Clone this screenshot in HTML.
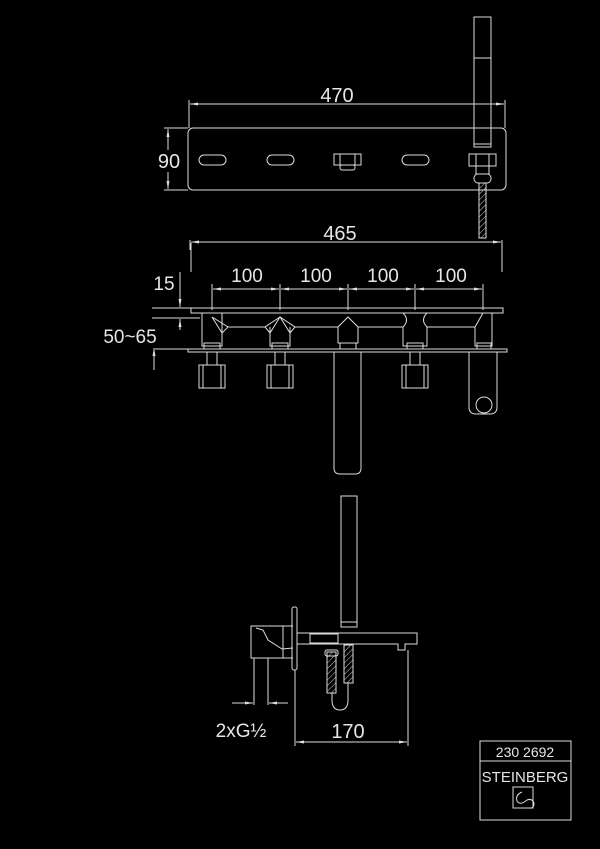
<!DOCTYPE html>
<html><head><style>
html,body{margin:0;padding:0;background:#000;}
svg{display:block}
text{font-family:"Liberation Sans",sans-serif;fill:#e6e6e6}
</style></head><body>
<svg width="600" height="849" viewBox="0 0 600 849" xmlns="http://www.w3.org/2000/svg">
<defs>
<marker id="a" markerWidth="8" markerHeight="6" refX="8" refY="3" orient="auto-start-reverse" markerUnits="userSpaceOnUse"><path d="M0,1.5 L8,3 L0,4.5z" fill="#ddd"/></marker>
<pattern id="h" width="4" height="4" patternUnits="userSpaceOnUse" patternTransform="rotate(45)"><line x1="0" y1="0" x2="0" y2="4" stroke="#ccc" stroke-width="1"/></pattern>
</defs>
<rect width="600" height="849" fill="#000"/>
<g fill="none" stroke="#dcdcdc" stroke-width="1">
<line x1="189" y1="100" x2="189" y2="128"/><line x1="505" y1="100" x2="505" y2="128"/>
<line x1="190" y1="104" x2="504" y2="104" marker-start="url(#a)" marker-end="url(#a)"/>
<rect x="188" y="128" width="318" height="62" rx="5"/>
<line x1="164" y1="128" x2="188" y2="128"/><line x1="164" y1="190" x2="188" y2="190"/>
<line x1="168" y1="129" x2="168" y2="150" marker-start="url(#a)"/><line x1="168" y1="172" x2="168" y2="189" marker-end="url(#a)"/>
<rect x="199" y="155" width="27" height="10" rx="5"/><line x1="208" y1="155" x2="216" y2="155"/><line x1="208" y1="165" x2="216" y2="165"/>
<rect x="267" y="155" width="27" height="10" rx="5"/><line x1="276" y1="155" x2="284" y2="155"/><line x1="276" y1="165" x2="284" y2="165"/>
<rect x="402" y="155" width="27" height="10" rx="5"/><line x1="411" y1="155" x2="419" y2="155"/><line x1="411" y1="165" x2="419" y2="165"/>
<rect x="334" y="154" width="27" height="11"/><rect x="340" y="165" width="15" height="5" rx="2"/><line x1="340" y1="154" x2="340" y2="165"/><line x1="355" y1="154" x2="355" y2="165"/>
<rect x="474" y="17" width="17" height="130"/><line x1="474" y1="58" x2="491" y2="58"/><line x1="474" y1="144" x2="491" y2="144"/>
<rect x="469" y="154" width="27" height="12"/><line x1="476" y1="154" x2="476" y2="166"/><line x1="489" y1="154" x2="489" y2="166"/>
<rect x="476" y="166" width="13" height="8"/><rect x="474" y="174" width="17" height="9" rx="4"/>
<rect x="479" y="183" width="7" height="55" fill="url(#h)"/>
<line x1="190" y1="240" x2="190" y2="250"/><line x1="502" y1="240" x2="502" y2="250"/>
<line x1="191" y1="242" x2="501" y2="242" marker-start="url(#a)" marker-end="url(#a)"/>
<line x1="191" y1="243" x2="191" y2="272"/><line x1="502" y1="243" x2="502" y2="272"/>
<line x1="212" y1="284" x2="212" y2="310"/><line x1="280" y1="284" x2="280" y2="310"/><line x1="348" y1="284" x2="348" y2="310"/><line x1="415" y1="284" x2="415" y2="310"/><line x1="483" y1="284" x2="483" y2="310"/>
<line x1="213" y1="289" x2="279" y2="289" marker-start="url(#a)" marker-end="url(#a)"/>
<line x1="281" y1="289" x2="347" y2="289" marker-start="url(#a)" marker-end="url(#a)"/>
<line x1="349" y1="289" x2="414" y2="289" marker-start="url(#a)" marker-end="url(#a)"/>
<line x1="416" y1="289" x2="482" y2="289" marker-start="url(#a)" marker-end="url(#a)"/>
<rect x="191" y="308" width="312" height="5"/>
<rect x="188" y="349" width="319" height="3"/>
<line x1="152" y1="308" x2="200" y2="308"/><line x1="152" y1="318" x2="200" y2="318"/>
<line x1="180" y1="272" x2="180" y2="307" marker-end="url(#a)"/><line x1="180" y1="319" x2="180" y2="330" marker-start="url(#a)"/>
<line x1="155" y1="349" x2="188" y2="349"/>
<line x1="154" y1="348" x2="154" y2="370" marker-start="url(#a)"/>
<line x1="228" y1="327" x2="265" y2="327"/><line x1="295" y1="327" x2="338" y2="327"/><line x1="358" y1="327" x2="403" y2="327"/><line x1="427" y1="327" x2="475" y2="327"/>
<path d="M202,313 V346 H222 V313"/><path d="M212,317 L228,327 L222,333 Z"/><rect x="204" y="343" width="16" height="6"/>
<rect x="207" y="352" width="10" height="13"/><rect x="199" y="365" width="26" height="23"/><line x1="203" y1="365" x2="203" y2="388"/><line x1="221" y1="365" x2="221" y2="388"/>
<path d="M270,327 V346 H290 V327"/><path d="M280,317 L265,327 L270,333 L280,317 L290,333 L295,327 Z"/><rect x="272" y="343" width="16" height="6"/>
<rect x="275" y="352" width="10" height="13"/><rect x="267" y="365" width="26" height="23"/><line x1="271" y1="365" x2="271" y2="388"/><line x1="289" y1="365" x2="289" y2="388"/>
<path d="M338,327 L348,317 L358,327 V343 H338 Z"/><rect x="340" y="343" width="16" height="6"/>
<path d="M334,352 V468 Q334,474 340,474 H355 Q361,474 361,468 V352"/>
<path d="M403,313 Q410,320 403,327 V346 H427 V327 Q420,320 427,313"/><rect x="407" y="343" width="16" height="6"/>
<rect x="410" y="352" width="10" height="13"/><rect x="402" y="365" width="26" height="23"/><line x1="406" y1="365" x2="406" y2="388"/><line x1="424" y1="365" x2="424" y2="388"/>
<path d="M483,313 L475,327 V346 H492 V313"/><rect x="477" y="343" width="14" height="6"/>
<path d="M469,352 V407 Q469,414 476,414 H490 Q497,414 497,407 V352"/><circle cx="484" cy="405" r="8"/>
<rect x="341" y="496" width="16" height="131"/><line x1="341" y1="622" x2="357" y2="622"/>
<rect x="292" y="607" width="5" height="63" rx="2"/>
<path d="M297,633 H417 V644 H405 V650 H398 V644 H297"/><rect x="310" y="634" width="28" height="9"/>
<path d="M293,626 H251 V658 H293"/><path d="M256,628 L263,630 L268,640 L282,649 L293,648"/><line x1="283" y1="626" x2="283" y2="658"/>
<line x1="254" y1="658" x2="254" y2="705"/><line x1="268" y1="658" x2="268" y2="705"/>
<line x1="232" y1="703" x2="253" y2="703" marker-end="url(#a)"/><line x1="269" y1="703" x2="288" y2="703" marker-start="url(#a)"/>
<rect x="327" y="652" width="9" height="41" fill="url(#h)"/><rect x="325" y="650" width="13" height="6" rx="2"/>
<rect x="344" y="645" width="9" height="38" fill="url(#h)"/>
<path d="M332,693 V700 Q332,710 340,710 Q348,710 348,700 V683"/>
<line x1="295" y1="670" x2="295" y2="746"/><line x1="408" y1="650" x2="408" y2="746"/>
<line x1="296" y1="742" x2="407" y2="742" marker-start="url(#a)" marker-end="url(#a)"/>
<rect x="480" y="741" width="91" height="79"/><line x1="480" y1="761" x2="571" y2="761"/>
<rect x="513" y="787" width="20" height="21"/>
<path d="M522,792 Q515,795 517,801 Q520,806 527,800 Q532,798 534,803 Q534,809 529,808"/>
</g>
<text x="337" y="102" font-size="20" text-anchor="middle">470</text>
<text x="169" y="168" font-size="20" text-anchor="middle">90</text>
<text x="340" y="240" font-size="20" text-anchor="middle">465</text>
<text x="247" y="282" font-size="19" text-anchor="middle">100</text>
<text x="316" y="282" font-size="19" text-anchor="middle">100</text>
<text x="383" y="282" font-size="19" text-anchor="middle">100</text>
<text x="451" y="282" font-size="19" text-anchor="middle">100</text>
<text x="164" y="290" font-size="19" text-anchor="middle">15</text>
<text x="130" y="343" font-size="19" text-anchor="middle">50~65</text>
<text x="241" y="737" font-size="19" text-anchor="middle">2xG½</text>
<text x="348" y="738" font-size="20" text-anchor="middle">170</text>
<text x="525" y="757" font-size="14" text-anchor="middle">230 2692</text>
<text x="525" y="782" font-size="15" text-anchor="middle">STEINBERG</text>
</svg>
</body></html>
